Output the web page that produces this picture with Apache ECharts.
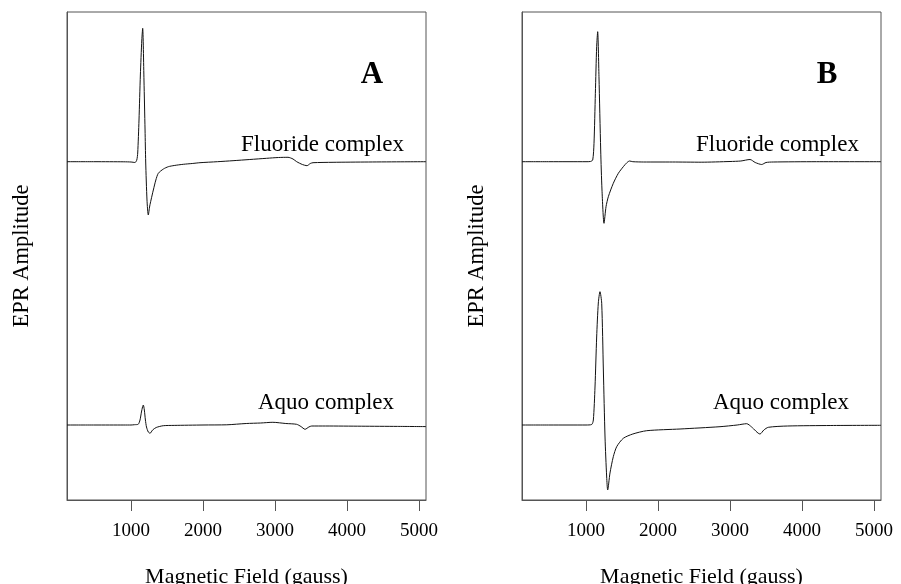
<!DOCTYPE html>
<html>
<head>
<meta charset="utf-8">
<script src="https://cdn.jsdelivr.net/npm/echarts@6/dist/echarts.min.js"></script>
<style>
html,body{margin:0;padding:0;background:#fff;}
#chart{width:901px;height:584px;}
</style>
</head>
<body>
<div id="chart"></div>
<script>
// Magnetic field ticks (gauss)
const fieldTicks = [1000, 2000, 3000, 4000, 5000];
const fieldMin = 111, fieldMax = 5097;
const panelLetters = ['A', 'B'];
const seriesNames = ['Fluoride complex', 'Aquo complex'];

// EPR amplitude, arbitrary units (stacked spectra), pairs [gauss, amplitude]
const fluorideA = [
 [111,338.3],[500,338.3],[900,338.2],[1000,338],[1056,337.5],[1080,340],[1093,347],[1111,380],[1130,425],[1150,460],[1162,471.7],
 [1180,420],[1195,370],[1204,338],[1222,300],[1240,285],[1260,294],[1278,300],[1310,310],[1345,320],[1379,326.7],[1450,331],
 [1518,333.3],[1600,334.5],[1726,335.7],[1850,336.5],[1958,337.3],[2200,338.3],[2417,339.3],[2650,340.5],[2884,341.7],
 [3050,342.5],[3180,342.7],[3250,341],[3301,338.3],[3380,335.5],[3444,334.3],[3490,336.5],[3528,337.3],[3806,337.7],
 [4300,338],[4800,338.2],[5097,338.3]
];
const aquoA = [
 [111,75],[500,75],[900,75],[1000,75],[1050,75.3],[1101,75.8],[1125,80],[1145,88],[1160,93],[1171,95],[1185,90],[1200,80],
 [1215,73],[1240,68],[1264,66.7],[1300,70],[1350,72.5],[1449,74.3],[1600,74.6],[2000,75],[2330,75.2],[2600,76.5],[2800,77],
 [2970,77.7],[3150,76.5],[3300,75.7],[3360,73.5],[3417,70.7],[3470,73],[3510,74],[3700,74],[4200,73.8],[4700,73.6],[5097,73.4]
];
const fluorideB = [
 [111,338.3],[500,338.3],[1000,338.3],[1060,338.5],[1093,340],[1111,356.7],[1130,406.7],[1148,453.3],[1162,468.3],[1180,423.3],
 [1204,350],[1222,310],[1250,276.7],[1278,293.3],[1310,303.3],[1379,316.7],[1449,326.7],[1518,333.3],[1570,337.5],[1605,339],
 [1650,338.3],[1800,338],[2200,338],[2600,337.8],[3000,338.5],[3150,339],[3278,340.5],[3350,337.5],[3440,335.5],[3500,337.5],[3600,338],
 [4200,338.3],[5097,338.3]
];
const aquoB = [
 [111,75],[500,75],[1000,75],[1079,75.5],[1102,80],[1125,113],[1148,163],[1171,197],[1194,208.3],[1218,196.7],[1241,130],
 [1264,63],[1287,23],[1301,10],[1333,27],[1379,43.3],[1426,53.3],[1518,61.7],[1650,66],[1843,69.3],[2306,71],[2861,73.3],
 [3100,75],[3232,76.3],[3300,73],[3417,66],[3470,70],[3532,72.7],[3800,74],[4400,74.5],[5097,74.7]
];

const panels = [[fluorideA, aquoA], [fluorideB, aquoB]];
const gridLefts = [67, 522];
const FONT = '"Liberation Serif", "Times New Roman", serif';

const chart = echarts.init(document.getElementById('chart'), null, {renderer: 'canvas'});

const grids = gridLefts.map(l => ({left: l, top: 12, width: 359, height: 488, show: true, borderColor: '#555', borderWidth: 1, backgroundColor: 'transparent'}));

const xAxes = gridLefts.map((l, i) => ({
  type: 'value', gridIndex: i, min: fieldMin, max: fieldMax,
  axisLine: {show: true, lineStyle: {color: '#555', width: 1}},
  axisTick: {show: true, inside: false, length: 11, customValues: fieldTicks, lineStyle: {color: '#555', width: 1}},
  axisLabel: {show: true, customValues: fieldTicks, margin: 22, color: '#000', fontFamily: FONT, fontSize: 19,
    formatter: v => String(Math.round(v))},
  splitLine: {show: false}
}));
const yAxes = gridLefts.map((l, i) => ({
  type: 'value', gridIndex: i, min: 0, max: 488,
  axisLine: {show: true, lineStyle: {color: '#555', width: 1}},
  axisTick: {show: false}, axisLabel: {show: false}, splitLine: {show: false}
}));

const series = [];
panels.forEach((p, i) => {
  p.forEach((d, j) => {
    series.push({
      type: 'line', name: seriesNames[j] + ' ' + panelLetters[i], xAxisIndex: i, yAxisIndex: i,
      data: d, showSymbol: false, smooth: 0.25, animation: false,
      lineStyle: {color: '#111', width: 1}
    });
  });
});

const graphic = [];
gridLefts.forEach((l, i) => {
  const dx = l - 67;
  graphic.push({type: 'text', left: 241 + dx, top: 133, style: {text: seriesNames[0], font: '23px ' + FONT, fill: '#000'}});
  graphic.push({type: 'text', left: 258 + dx, top: 391, style: {text: seriesNames[1], font: '23px ' + FONT, fill: '#000'}});
  graphic.push({type: 'text', x: 372 + dx, y: 75, style: {text: panelLetters[i], font: 'bold 31px ' + FONT, fill: '#000', align: 'center', verticalAlign: 'middle'}});
  graphic.push({type: 'text', x: 22 + dx, y: 256, rotation: Math.PI / 2, style: {text: 'EPR Amplitude', font: '22.5px ' + FONT, fill: '#000', align: 'center', verticalAlign: 'middle'}});
  graphic.push({type: 'text', x: 246.5 + dx, y: 577, style: {text: 'Magnetic Field (gauss)', font: '22px ' + FONT, fill: '#000', align: 'center', verticalAlign: 'middle'}});
});

chart.setOption({
  animation: false,
  backgroundColor: '#fff',
  grid: grids, xAxis: xAxes, yAxis: yAxes, series: series, graphic: graphic
});
</script>
</body>
</html>
